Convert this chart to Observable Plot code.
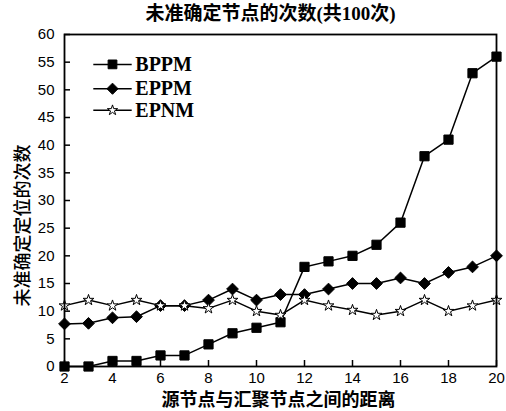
<!DOCTYPE html>
<html><head><meta charset="utf-8">
<script src="https://cdn.jsdelivr.net/npm/d3@7"></script>
<script src="https://cdn.jsdelivr.net/npm/@observablehq/plot@0.6"></script>
<style>
body{margin:0;background:#fff}
g[aria-label="xlabel"] text{letter-spacing:3px}
g[aria-label="ylabel"] text{letter-spacing:3px}
g[aria-label="title"] text{letter-spacing:2px}
</style>
</head><body><div id="chart"></div>
<script>
const distances = [2,3,4,5,6,7,8,9,10,11,12,13,14,15,16,17,18,19,20];
const bppm = [0,0,1,1,2,2,4,6,7,8,18,19,20,22,26,38,41,53,56];
const eppm = [7.7,7.8,8.8,9,11,11,12,14,12,13,13,14,15,15,16,15,17,18,20];
const epnm = [11,12,11,12,11,11,10.5,12,10,9.3,12,11,10.2,9.3,10,12,10,11,12];
const seriesNames = ["BPPM","EPPM","EPNM"];
const xTicks = [2,4,6,8,10,12,14,16,18,20];
const yTicks = [0,5,10,15,20,25,30,35,40,45,50,55,60];
const title = "未准确定节点的次数(共100次)";
const xLabel = "源节点与汇聚节点之间的距离";
const yLabel = "未准确定定位的次数";

const W = 506, H = 411, mL = 64, mR = 10, mT = 34, mB = 45, tickLen = 6;
const seriesValues = [bppm, eppm, epnm];
const symbols = ["square","diamond2","star"];
const fills = ["black","black","white"];
const radii = [5.2,5.3,3.4];

const data = seriesNames.map((name,i)=>distances.map((x,j)=>({series:name,x,y:seriesValues[i][j]})));

// legend layout (in data space)
const legX1 = 3.2, legX2 = 4.8, legMark = 4.0, legText = 4.95;
const legY = [54.6, 50.2, 46.3];

const marks = [];
data.forEach((d,i)=>{
  marks.push(Plot.line(d,{x:"x",y:"y",stroke:"black",strokeWidth:1.5}));
  marks.push(Plot.dot(d,{x:"x",y:"y",symbol:()=>symbols[i],r:radii[i],fill:fills[i],stroke:"black",strokeWidth:1}));
});
seriesNames.forEach((name,i)=>{
  marks.push(Plot.link([name],{x1:()=>legX1,x2:()=>legX2,y1:()=>legY[i],y2:()=>legY[i],stroke:"black",strokeWidth:1.5}));
  marks.push(Plot.dot([name],{x:()=>legMark,y:()=>legY[i],symbol:()=>symbols[i],r:radii[i]*0.95,fill:fills[i],stroke:"black",strokeWidth:1}));
  marks.push(Plot.text([name],{x:()=>legText,y:()=>legY[i],text:d=>d,textAnchor:"start",fontSize:20,fontWeight:"bold",fontFamily:"Liberation Serif, serif",fill:"black"}));
});
// inside ticks
marks.push(Plot.ruleX(xTicks,{x:d=>d,insetTop:(H-mT-mB)-tickLen,stroke:"black",strokeWidth:1.5}));
marks.push(Plot.ruleY(yTicks,{y:d=>d,insetRight:(W-mL-mR)-tickLen,stroke:"black",strokeWidth:1.5}));
marks.push(Plot.frame({stroke:"black",strokeWidth:1.8}));
marks.push(Plot.text([title],{frameAnchor:"top",lineAnchor:"middle",textAnchor:"middle",dy:-21,dx:-10,text:d=>d,fontSize:19,fontWeight:"bold",fontFamily:"Liberation Serif, Noto Sans CJK SC, serif",ariaLabel:"title"}));
marks.push(Plot.text([xLabel],{frameAnchor:"bottom",lineAnchor:"middle",textAnchor:"middle",dy:34,dx:-2,text:d=>d,fontSize:18,fontWeight:"bold",fontFamily:"Noto Sans CJK SC",ariaLabel:"xlabel"}));
marks.push(Plot.text([yLabel],{frameAnchor:"left",lineAnchor:"middle",textAnchor:"middle",rotate:-90,dx:-41,dy:25,text:d=>d,fontSize:18,fontFamily:"Noto Sans CJK SC",fontWeight:500,ariaLabel:"ylabel"}));

const chart = Plot.plot({
  width:W,height:H,
  marginLeft:mL,marginRight:mR,marginTop:mT,marginBottom:mB,
  style:{fontFamily:"Liberation Sans, Arial, sans-serif",fontSize:"15px",color:"black",background:"white"},
  x:{domain:[2,20],ticks:xTicks,tickSize:0,tickPadding:6,label:null},
  y:{domain:[0,60],ticks:yTicks,tickSize:0,tickPadding:10,label:null},
  marks
});
document.getElementById("chart").appendChild(chart);
</script>
</body></html>
